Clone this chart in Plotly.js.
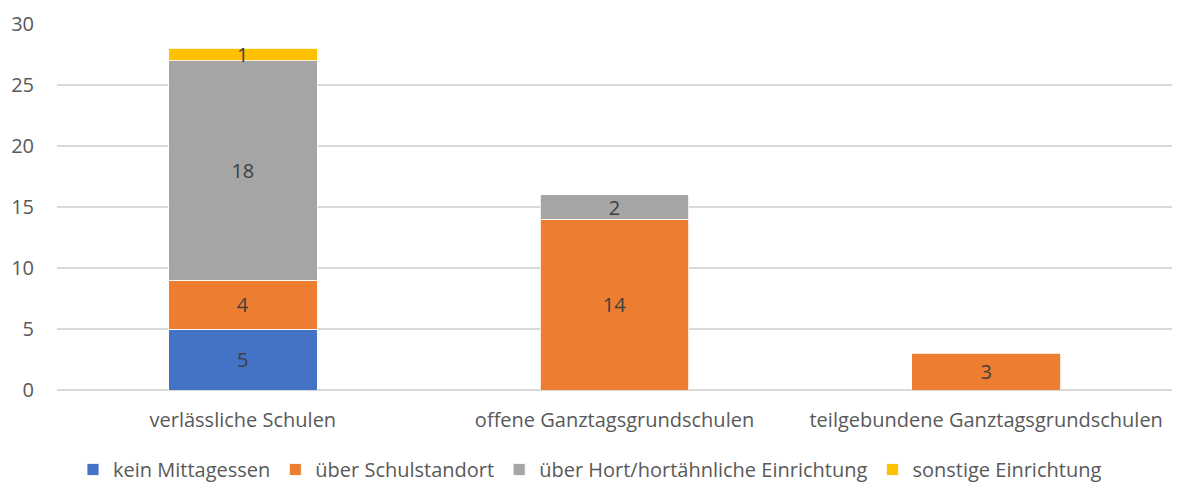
<!DOCTYPE html>
<html><head><meta charset="utf-8">
<script src="https://cdn.plot.ly/plotly-3.0.1.min.js"></script>
<style>body{margin:0;}#c{width:1180px;height:484px;}</style>
</head><body><div id="c"></div>
<script>
const categories = ["verlässliche Schulen", "offene Ganztagsgrundschulen", "teilgebundene Ganztagsgrundschulen"];
const seriesNames = ["kein Mittagessen", "über Schulstandort", "über Hort/hortähnliche Einrichtung", "sonstige Einrichtung"];
const keinMittagessen = [5, null, null];
const schulstandort = [4, 14, 3];
const hort = [18, 2, null];
const sonstige = [1, null, null];
const colors = ["#4472C4", "#ED7D31", "#A5A5A5", "#FFC000"];
const allSeries = [keinMittagessen, schulstandort, hort, sonstige];
const font = "'Open Sans', sans-serif";
const fs = 20;
const traces = allSeries.map((vals, i) => ({
  type: "bar", name: seriesNames[i], x: categories, y: vals,
  marker: {color: colors[i], line: {color: "#FFFFFF", width: 0.8}},
  text: vals.map(v => v == null ? "" : String(v)),
  textposition: "inside", insidetextanchor: "middle", constraintext: "none", textangle: 0,
  textfont: {family: font, size: fs, color: "#404040"},
  hoverinfo: "none"
}));
Plotly.newPlot("c", traces, {
  barmode: "stack", bargap: 0.6,
  width: 1180, height: 484,
  margin: {l: 57, r: 8, t: 24, b: 94},
  paper_bgcolor: "#fff", plot_bgcolor: "#fff",
  font: {family: font, size: fs, color: "#595959"},
  xaxis: {tickfont: {size: fs, color: "#595959"}, showline: false, ticks: "", automargin: false, ticklabelstandoff: 16},
  yaxis: {range: [0, 30], dtick: 5, gridcolor: "#D9D9D9", gridwidth: 1.2, zeroline: true, zerolinecolor: "#D9D9D9", zerolinewidth: 1.2, tickfont: {size: fs, color: "#595959"}, ticklabelstandoff: 22, automargin: false},
  legend: {orientation: "h", x: 0.5, xanchor: "center", xref: "container", yref: "container", y: 0.03, yanchor: "middle", font: {size: fs, color: "#595959"}, itemwidth: 30, traceorder: "normal"},
  showlegend: true
}, {displayModeBar: false, staticPlot: true});
</script></body></html>
